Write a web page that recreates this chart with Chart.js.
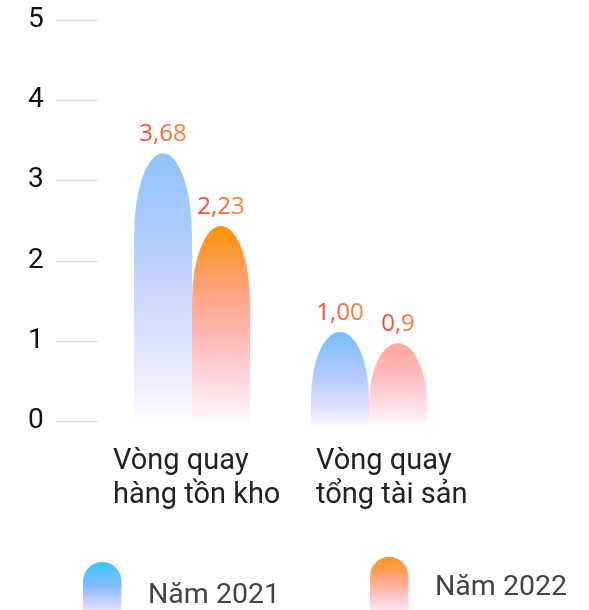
<!DOCTYPE html>
<html>
<head>
<meta charset="utf-8">
<script src="https://cdn.jsdelivr.net/npm/chart.js@4.4.1/dist/chart.umd.min.js"></script>
<style>
  html, body { margin: 0; padding: 0; background: #fff; }
  canvas { display: block; }
</style>
</head>
<body>
<canvas id="turnoverChart" width="589" height="610"></canvas>
<script>
const categories = [["Vòng quay", "hàng tồn kho"], ["Vòng quay", "tổng tài sản"]];
const seriesNames = ["Năm 2021", "Năm 2022"];
// bar heights as drawn against the axis
const values2021 = [3.34, 1.11];
const values2022 = [2.43, 0.97];
// printed value labels
const valueLabels2021 = ["3,68", "1,00"];
const valueLabels2022 = ["2,23", "0,9"];
const yTicks = [0, 1, 2, 3, 4, 5];

// gradient stops for each bar (top -> bottom)
const stops2021 = [
  [[0, "#8ec3fa"], [0.45, "#c3d2ff"], [0.8, "#eceaff"], [1, "#ffffff"]],
  [[0, "#78befa"], [0.5, "#b8ccff"], [0.85, "#e6e4ff"], [1, "#ffffff"]],
];
const stops2022 = [
  [[0, "#ff9006"], [0.3, "#ffa27a"], [0.55, "#ffb8b4"], [0.8, "#ffdbe3"], [1, "#ffffff"]],
  [[0, "#ffa896"], [0.4, "#ffbcc0"], [0.8, "#ffe4ec"], [1, "#ffffff"]],
];
// left edge of each category label relative to the category centre
const labelShift = [-79, -53];

const bulletBars = {
  id: "bulletBars",
  beforeDatasetsDraw(chart) {
    // short tick lines left of the plot
    const ctx = chart.ctx;
    const y = chart.scales.y;
    const left = chart.chartArea.left;
    ctx.save();
    ctx.strokeStyle = "#d9d9d9";
    ctx.lineWidth = 1.5;
    y.ticks.forEach((t) => {
      const py = Math.round(y.getPixelForValue(t.value)) + 0.5;
      ctx.beginPath();
      ctx.moveTo(left - 47.5, py);
      ctx.lineTo(left - 6.5, py);
      ctx.stroke();
    });
    ctx.restore();
  },
  afterDatasetsDraw(chart) {
    const ctx = chart.ctx;
    ctx.save();
    chart.data.datasets.forEach((ds, di) => {
      chart.getDatasetMeta(di).data.forEach((bar, i) => {
        const w = bar.width;
        const x0 = bar.x - w / 2;
        const top = bar.y;
        const base = bar.base + 6;
        const h = bar.base - bar.y;
        const ry = Math.min(h * 0.78, 58 + 0.09 * h);
        const g = ctx.createLinearGradient(0, top, 0, base);
        ds.stops[i].forEach(([o, c]) => g.addColorStop(o, c));
        ctx.beginPath();
        ctx.moveTo(x0, base);
        ctx.lineTo(x0, top + ry);
        ctx.ellipse(bar.x, top + ry, w / 2, ry, 0, Math.PI, 2 * Math.PI);
        ctx.lineTo(x0 + w, base);
        ctx.closePath();
        ctx.fillStyle = g;
        ctx.fill();

        // value label
        const txt = ds.valueLabels[i];
        ctx.font = '24px "Open Sans"';
        const tw = ctx.measureText(txt).width;
        const tg = ctx.createLinearGradient(bar.x - tw / 2, 0, bar.x + tw / 2, 0);
        tg.addColorStop(0, "#f4433a");
        tg.addColorStop(1, "#ff8838");
        ctx.fillStyle = tg;
        ctx.textAlign = "center";
        ctx.textBaseline = "alphabetic";
        ctx.fillText(txt, bar.x, top - 12);
      });
    });

    // category labels, left aligned lines
    const x = chart.scales.x;
    ctx.font = "29px Roboto";
    ctx.fillStyle = "#222";
    ctx.textAlign = "left";
    ctx.textBaseline = "alphabetic";
    chart.data.labels.forEach((lines, i) => {
      const px = x.getPixelForValue(i) + labelShift[i];
      lines.forEach((line, k) => {
        ctx.fillText(line, px, chart.chartArea.bottom + 48 + k * 34);
      });
    });
    ctx.restore();
  },
  afterDraw(chart) {
    // legend with bullet swatches
    const ctx = chart.ctx;
    const items = [
      { x: 83, top: 562, tx: 148, ty: 603, stops: [[0, "#36c8fa"], [0.45, "#80bcfc"], [0.8, "#c8d0ff"], [1, "#ebe8ff"]] },
      { x: 370, top: 557, tx: 435, ty: 595, stops: [[0, "#ff9018"], [0.45, "#ffab8e"], [0.8, "#ffd0da"], [1, "#ffeaf0"]] },
    ];
    ctx.save();
    items.forEach((it, i) => {
      const w = 38.5, r = w / 2, bottom = 612;
      const g = ctx.createLinearGradient(0, it.top, 0, bottom);
      it.stops.forEach(([o, c]) => g.addColorStop(o, c));
      ctx.beginPath();
      ctx.moveTo(it.x, bottom);
      ctx.lineTo(it.x, it.top + r);
      ctx.arc(it.x + r, it.top + r, r, Math.PI, 2 * Math.PI);
      ctx.lineTo(it.x + w, bottom);
      ctx.closePath();
      ctx.fillStyle = g;
      ctx.fill();
      ctx.font = "28.5px Roboto";
      ctx.fillStyle = "#444";
      ctx.textAlign = "left";
      ctx.textBaseline = "alphabetic";
      ctx.fillText(seriesNames[i], it.tx, it.ty);
    });
    ctx.restore();
  },
};

new Chart(document.getElementById("turnoverChart"), {
  type: "bar",
  data: {
    labels: categories,
    datasets: [
      {
        label: seriesNames[0],
        data: values2021,
        valueLabels: valueLabels2021,
        stops: stops2021,
        backgroundColor: "rgba(0,0,0,0)",
        borderWidth: 0,
      },
      {
        label: seriesNames[1],
        data: values2022,
        valueLabels: valueLabels2022,
        stops: stops2022,
        backgroundColor: "rgba(0,0,0,0)",
        borderWidth: 0,
      },
    ],
  },
  options: {
    responsive: false,
    animation: false,
    barPercentage: 1,
    categoryPercentage: 0.655,
    layout: { padding: { top: 20, right: 131.5, bottom: 0, left: 28 } },
    plugins: {
      legend: { display: false },
      tooltip: { enabled: false },
    },
    scales: {
      x: {
        grid: { display: false, drawTicks: false },
        border: { display: false },
        ticks: { display: false },
        afterFit: (s) => { s.height = 189; s.paddingLeft = 0; s.paddingRight = 0; },
      },
      y: {
        min: 0,
        max: 5,
        afterBuildTicks: (s) => { s.ticks = yTicks.map((v) => ({ value: v })); },
        afterFit: (s) => { s.width = 75.5; },
        grid: { display: false, drawTicks: false },
        border: { display: false },
        ticks: {
          padding: 0,
          crossAlign: "far",
          color: "#111",
          font: { family: "Roboto", size: 28 },
        },
      },
    },
  },
  plugins: [bulletBars],
});
</script>
</body>
</html>
